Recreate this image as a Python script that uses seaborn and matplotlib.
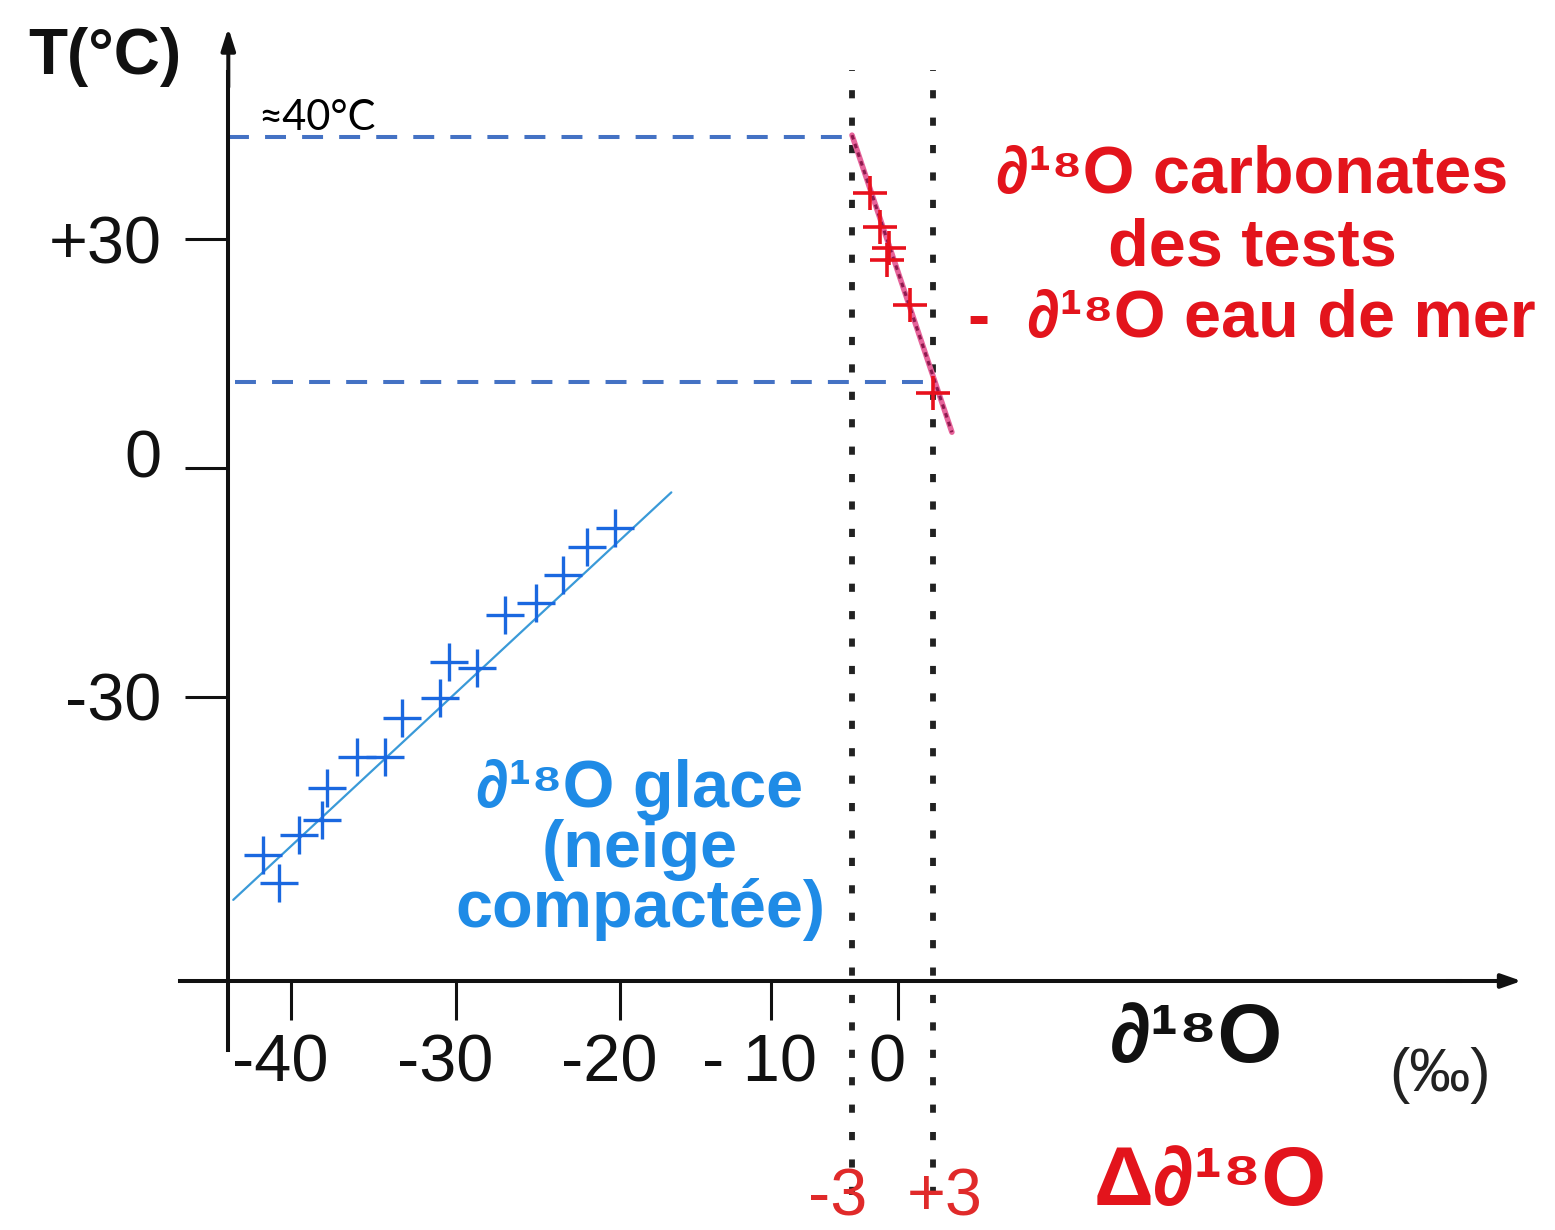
import numpy as np
import matplotlib
matplotlib.use("Agg")
import matplotlib.pyplot as plt
import seaborn as sns
from matplotlib import font_manager
from matplotlib.transforms import ScaledTranslation

# ---------------- data ----------------
ice_d18O = [-41.7, -40.7, -39.5, -38.1, -37.8, -36.0, -34.3, -33.3,
            -31.0, -30.4, -28.7, -27.0, -25.1, -23.5, -22.0, -20.3]
ice_T = [-50.8, -54.5, -48.2, -46.2, -42.0, -37.9, -37.9, -32.8,
         -30.2, -25.5, -26.3, -19.3, -17.7, -14.0, -10.4, -7.9]
ice_fit_d18O = [-43.5, -16.6]
ice_fit_T = [-56.7, -3.2]

carb_dd18O = [-1.8, -1.2, -0.6, -0.7, 1.0, 3.0]
carb_T = [36.1, 31.6, 28.9, 27.3, 21.4, 9.8]
carb_fit_dd18O = [-3.0, 4.4]
carb_fit_T = [43.7, 4.7]

bounds_dd18O = [-3, 3]
guide_T = [43.5, 11.3]
guide_x_start = [-43.8, -43.4]
guide_x_end = [-3.0, 2.7]

x_ticks = [-40, -30, -20, -10, 0]
x_tick_labels = ["-40", "-30", "-20", "- 10", "0"]
y_ticks = [30, 0, -30]
y_tick_labels = ["+30", "0", "-30"]

# ---------------- style ----------------
sns.set_theme(style="white")
names = {f.name for f in font_manager.fontManager.ttflist}
NARROW = "Liberation Sans Narrow" if "Liberation Sans Narrow" in names else "Liberation Sans"
FAM = ["Liberation Sans", "DejaVu Sans"]
plt.rcParams["font.family"] = FAM

RED = "#e3141c"
BLUE_TXT = "#1f8be6"
BLUE_PT = "#1a68e0"
BLUE_LINE = "#3a9ad8"
DASH_BLUE = "#4472c4"

fig = plt.figure(figsize=(15.55, 12.30), dpi=100)
ax = fig.add_axes([0, 0, 1, 1])
ax.set_facecolor("white")

# hand-drawn (non-uniform) x axis -> piecewise-linear scale
knot_x = [-100, -40, -30, -20, -10, -3, 0, 3, 100]
knot_u = [-699, 291, 456, 620, 771, 852, 898, 933, 2242.5]
fwd = lambda x: np.interp(x, knot_x, knot_u)
inv = lambda u: np.interp(u, knot_u, knot_x)
ax.set_xscale("function", functions=(fwd, inv))
ax.set_xlim(float(inv(0)), float(inv(1555)))
ax.set_ylim(-100.04, 61.44)

# spines as the drawn axes
for s in ["top", "right"]:
    ax.spines[s].set_visible(False)
ax.spines["left"].set_position(("data", -43.8))
ax.spines["bottom"].set_position(("data", -67.35))
ax.spines["left"].set_bounds(-76.4, 52)
ax.spines["bottom"].set_bounds(-46.7, 42)
for s in ["left", "bottom"]:
    ax.spines[s].set_linewidth(2.9)
    ax.spines[s].set_color("#111111")

ax.set_xticks(x_ticks)
ax.set_xticklabels(x_tick_labels)
ax.set_yticks(y_ticks)
ax.set_yticklabels(y_tick_labels)
ax.minorticks_off()
ax.tick_params(axis="x", direction="out", length=28, width=2.2, pad=10,
               labelsize=48, colors="#111111", bottom=True)
ax.tick_params(axis="y", direction="out", length=31, width=2.2, pad=17,
               labelsize=48, colors="#111111", left=True)
shift = ScaledTranslation(-11 / 100, 0, fig.dpi_scale_trans)
for lab in ax.get_xticklabels():
    lab.set_fontfamily(NARROW)
    lab.set_transform(lab.get_transform() + shift)
for lab in ax.get_yticklabels():
    lab.set_fontfamily(NARROW)
    if lab.get_text() == "0":
        lab.set_transform(lab.get_transform()
                          + ScaledTranslation(0, 14 / 100, fig.dpi_scale_trans))

# arrow heads
ax.annotate("", xy=(-43.8, 57.8), xytext=(-43.8, 50),
            arrowprops=dict(arrowstyle="-|>,head_length=1.1,head_width=0.35",
                            color="#111111", lw=2.9, shrinkA=0, shrinkB=0))
ax.annotate("", xy=(46.6, -67.35), xytext=(41, -67.35),
            arrowprops=dict(arrowstyle="-|>,head_length=1.0,head_width=0.35",
                            color="#111111", lw=2.9, shrinkA=0, shrinkB=0))

# dotted ±3 lines
ax.vlines(bounds_dd18O, ymin=-95.4, ymax=52.3, colors="#222222",
          linestyles=(0, (1.4, 3.3)), linewidth=4.2, capstyle="butt")

# dashed guide lines
ax.hlines(guide_T, xmin=guide_x_start, xmax=guide_x_end, colors=DASH_BLUE,
          linestyles=(0, (5.2, 4.0)), linewidth=2.9)

# ice series
sns.lineplot(x=ice_fit_d18O, y=ice_fit_T, color=BLUE_LINE, linewidth=1.6,
             sort=False, ax=ax)
sns.scatterplot(x=ice_d18O, y=ice_T, marker="+", s=720, color=BLUE_PT,
                linewidth=2.4, ax=ax, zorder=4)

# carbonate series
sns.lineplot(x=carb_fit_dd18O, y=carb_fit_T, color="#e6639a", linewidth=4.0,
             sort=False, ax=ax)
ax.plot(carb_fit_dd18O, carb_fit_T, color="#8e1a4e", linewidth=2.2,
        linestyle=(0, (1.5, 1.5)))
sns.scatterplot(x=carb_dd18O, y=carb_T, marker="+", s=620, color="#e8101c",
                linewidth=2.6, ax=ax, zorder=4)

# ---------------- texts ----------------
def fx(px):
    return px / 1555


def fy(py):
    return 1 - py / 1230


D18 = "∂¹⁸O"
fig.text(fx(105), fy(57), "T(°C)", ha="center", va="center", fontsize=46,
         fontweight="bold", color="#111111")
fig.text(fx(258), fy(130), "≈40°C", ha="left", va="baseline", fontsize=30,
         family=["Lato", "DejaVu Sans"], color="black")

fig.text(fx(1252), fy(248),
         D18 + " carbonates\ndes tests\n-  " + D18 + " eau de mer",
         ha="center", va="center", multialignment="center", fontsize=48,
         fontweight="bold", color=RED, linespacing=1.2)
fig.text(fx(640), fy(850), D18 + " glace\n(neige\ncompactée)",
         ha="center", va="center", multialignment="center", fontsize=48,
         fontweight="bold", color=BLUE_TXT, linespacing=0.95)

fig.text(fx(1197), fy(1040), D18, ha="center", va="center",
         fontsize=60, fontweight="bold", color="#111111")
fig.text(fx(1440), fy(1075), "(‰)", ha="center", va="center", fontsize=44,
         color="#222222")
fig.text(fx(838), fy(1198), "-3", ha="center", va="center", fontsize=48,
         family=NARROW, color="#e02a2a")
fig.text(fx(945), fy(1198), "+3", ha="center", va="center", fontsize=48,
         family=NARROW, color="#e02a2a")
fig.text(fx(1210), fy(1183), "Δ" + D18, ha="center", va="center",
         fontsize=60, fontweight="bold", color=RED)

fig.savefig("out.png", dpi=100, facecolor="white")
